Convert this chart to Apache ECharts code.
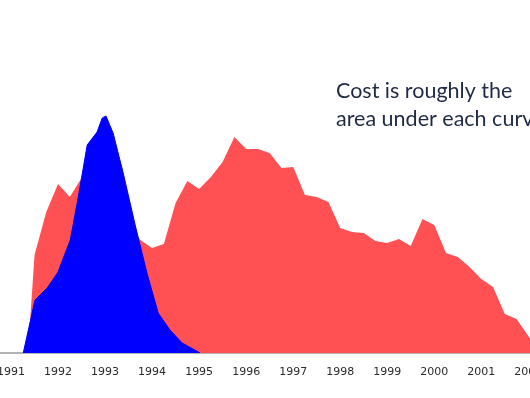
<!DOCTYPE html>
<html lang="en">
<head>
    <meta charset="UTF-8">
    <title>Cost curves</title>
    <script src="https://cdn.jsdelivr.net/npm/echarts@6.0.0/dist/echarts.min.js"></script>
    <style>
        body { padding: 0; margin: 0; background: #fff; }
        #chart { width: 530px; height: 398px; }
    </style>
</head>
<body>
    <div id="chart"></div>

    <script>
        // red curve, quarterly
        const redYears = [1991.36, 1991.5, 1991.75, 1992, 1992.25, 1992.5, 1992.75, 1993, 1993.25, 1993.5, 1993.75,
            1994, 1994.25, 1994.5, 1994.75, 1995, 1995.25, 1995.5, 1995.75, 1996, 1996.25, 1996.5, 1996.75,
            1997, 1997.25, 1997.5, 1997.75, 1998, 1998.25, 1998.5, 1998.75, 1999, 1999.25, 1999.5, 1999.75,
            2000, 2000.25, 2000.5, 2000.75, 2001, 2001.25, 2001.5, 2001.75, 2002, 2002.25];
        const redValues = [0, 98, 141, 169, 156, 175, 172, 165, 148, 127, 113,
            105, 109, 150, 172, 164, 176, 191, 216, 204, 204, 200, 185,
            186, 158, 156, 151, 125, 121, 120, 112, 110, 114, 107, 134,
            128, 100, 96, 86, 74, 66, 39, 34, 17, 0];

        // blue curve
        const blueYears = [1991.26, 1991.51, 1991.77, 1992.0, 1992.26, 1992.43, 1992.62, 1992.83, 1992.94,
            1993.02, 1993.17, 1993.38, 1993.64, 1993.89, 1994.13, 1994.38, 1994.64, 1995.02];
        const blueValues = [0, 53, 65, 81, 113, 156, 208, 221, 235,
            237, 220, 181, 128, 80, 40, 23, 10, 0];

        const note = 'Cost is roughly the\narea under each curve';

        const zip = (xs, ys) => xs.map((x, i) => [x, ys[i]]);

        const chart = echarts.init(document.getElementById('chart'));
        chart.setOption({
            backgroundColor: '#ffffff',
            animation: false,
            grid: { left: -36, right: -3, top: 93, bottom: 45, outerBoundsMode: 'none' },
            xAxis: {
                type: 'value',
                min: 1990,
                max: 2002.1,
                interval: 1,
                axisLine: { show: true, onZero: false, lineStyle: { color: '#9a9a9a', width: 1.5 } },
                axisTick: { show: false },
                splitLine: { show: false },
                axisLabel: {
                    margin: 14,
                    color: '#2a2a2a',
                    fontFamily: 'DejaVu Sans',
                    fontSize: 11,
                    formatter: v => String(Math.round(v))
                }
            },
            yAxis: { type: 'value', min: 0, max: 260, show: false },
            series: [
                {
                    type: 'line',
                    data: zip(redYears, redValues),
                    showSymbol: false,
                    lineStyle: { width: 0 },
                    areaStyle: { color: '#ff5053', opacity: 1 },
                    z: 2
                },
                {
                    type: 'line',
                    data: zip(blueYears, blueValues),
                    showSymbol: false,
                    lineStyle: { width: 1, color: '#0000f5' },
                    areaStyle: { color: '#0000ff', opacity: 1 },
                    z: 3
                }
            ],
            graphic: [{
                type: 'text',
                left: 336,
                top: 77,
                style: {
                    text: note,
                    fill: '#1f2a44',
                    font: '21.5px Lato',
                    lineHeight: 28
                }
            }]
        });
    </script>
</body>
</html>
